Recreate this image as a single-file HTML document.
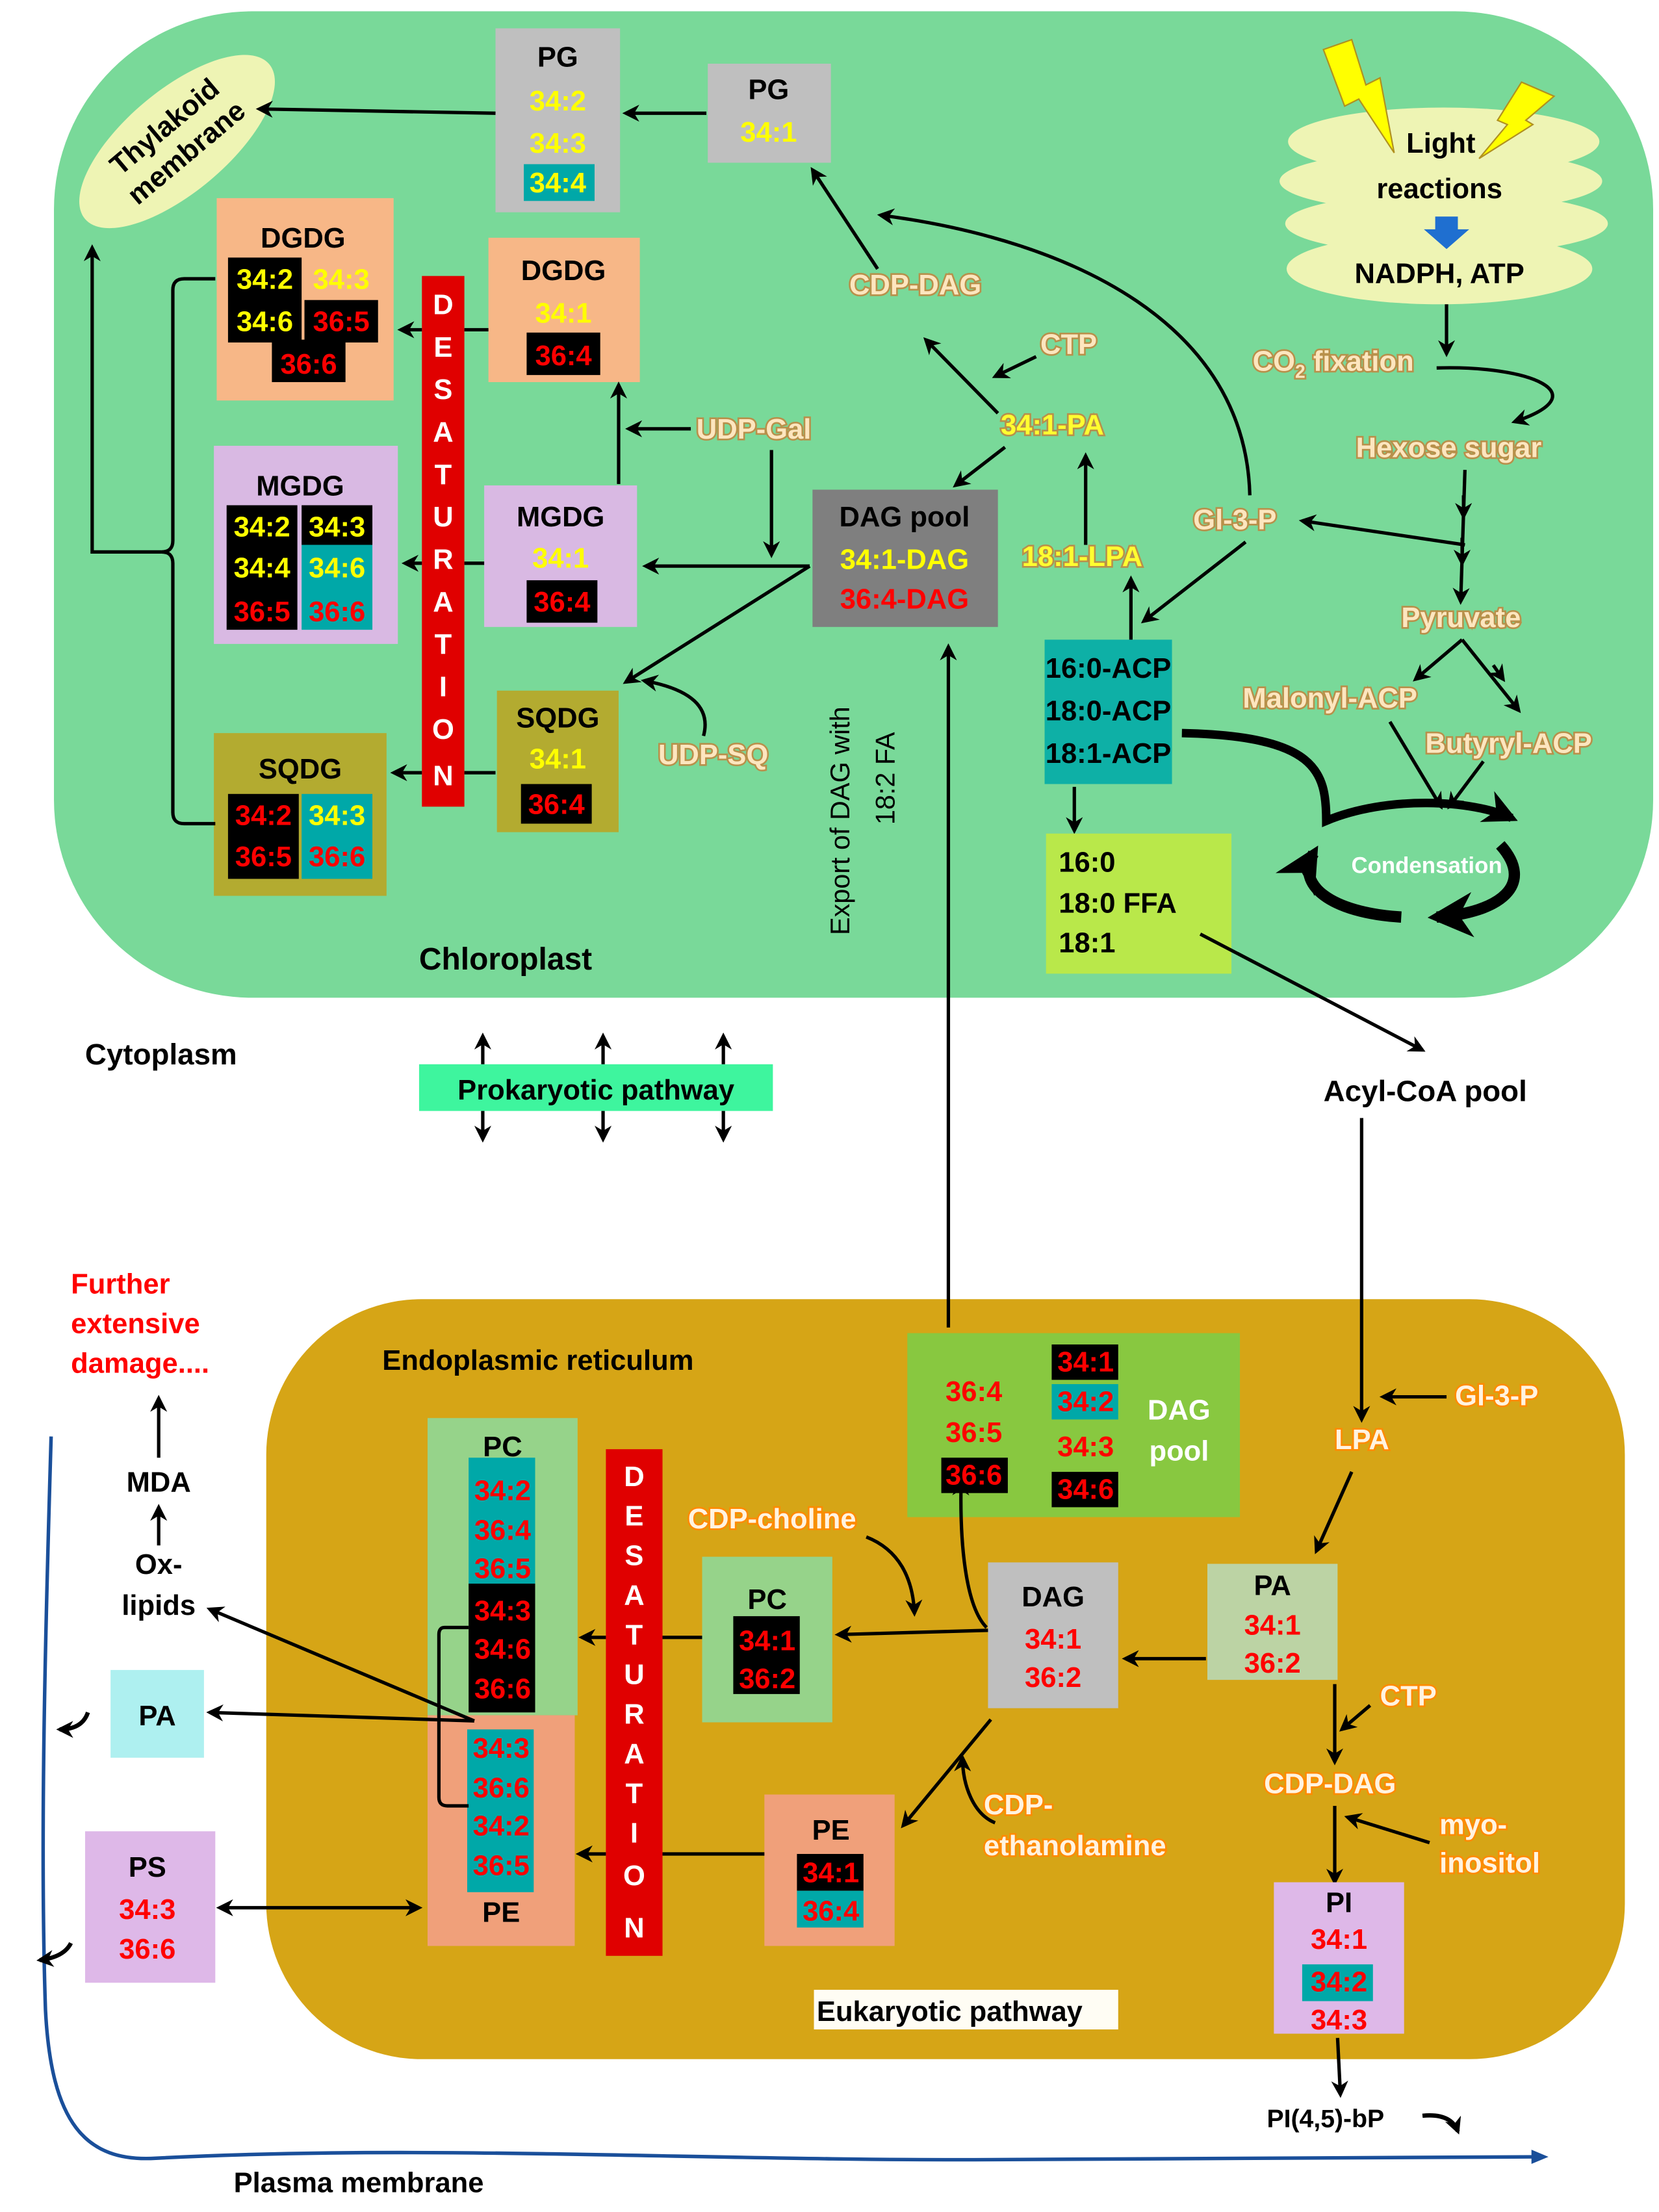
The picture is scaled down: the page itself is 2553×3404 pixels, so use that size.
<!DOCTYPE html>
<html><head><meta charset="utf-8"><style>
html,body{margin:0;padding:0;background:#fff}
svg{display:block}
text{font-family:"Liberation Sans",sans-serif;font-weight:bold}
.t{font-size:20px;text-anchor:middle}
.k{fill:#000}.y{fill:#ffff00}.r{fill:#ff0000}.w{fill:#fff}
.ol{fill:#fde6bf;stroke:#b8904a;stroke-width:2.4px;paint-order:stroke;font-size:20px}
.oe{fill:#fff3e0;stroke:#ff8a00;stroke-width:2.4px;paint-order:stroke;font-size:20px}
.ln{stroke:#000;stroke-width:2.4;fill:none}
</style></head><body>
<svg width="2553" height="3404" viewBox="0 0 1172 1563" xmlns="http://www.w3.org/2000/svg">
<defs>
<marker id="a" viewBox="0 0 10 10" refX="8" refY="5" markerWidth="5" markerHeight="5" orient="auto-start-reverse"><path d="M0,0 L10,5 L0,10 L3,5z" fill="#000"/></marker>
<marker id="b" viewBox="0 0 10 10" refX="8" refY="5" markerWidth="4" markerHeight="4" orient="auto"><path d="M0,0 L10,5 L0,10 L3,5z" fill="#000"/></marker>
</defs>
<rect x="38" y="8" width="1130" height="697" rx="140" fill="#79d999"/>
<rect x="188" y="918" width="960" height="537" rx="110" fill="#d6a516"/>

<g transform="rotate(-40 125 100)">
<ellipse cx="125" cy="100" rx="85" ry="36" fill="#eef4b4"/>
<text class="t k" x="125" y="93" font-size="19">Thylakoid</text>
<text class="t k" x="125" y="117" font-size="19">membrane</text>
</g>

<rect x="350" y="20" width="88" height="130" fill="#bfbfbf"/>
<text class="t k" x="394" y="47">PG</text>
<text class="t y" x="394" y="78">34:2</text>
<text class="t y" x="394" y="108">34:3</text>
<rect x="370" y="116" width="50" height="26" fill="#00a8a8"/>
<text class="t y" x="394" y="136">34:4</text>
<rect x="500" y="45" width="87" height="70" fill="#bfbfbf"/>
<text class="t k" x="543" y="70">PG</text>
<text class="t y" x="543" y="100">34:1</text>
<line class="ln" x1="499" y1="80" x2="442" y2="80" marker-end="url(#a)"/>
<line class="ln" x1="350" y1="80" x2="183" y2="77" marker-end="url(#a)"/>

<rect x="153" y="140" width="125" height="143" fill="#f7b787"/>
<text class="t k" x="214" y="175">DGDG</text>
<rect x="161" y="182" width="52" height="60" fill="#000"/>
<rect x="215" y="212" width="52" height="30" fill="#000"/>
<rect x="192" y="240" width="52" height="30" fill="#000"/>
<text class="t y" x="187" y="204">34:2</text>
<text class="t y" x="241" y="204">34:3</text>
<text class="t y" x="187" y="234">34:6</text>
<text class="t r" x="241" y="234">36:5</text>
<text class="t r" x="218" y="264">36:6</text>
<rect x="345" y="168" width="107" height="102" fill="#f7b787"/>
<text class="t k" x="398" y="198">DGDG</text>
<text class="t y" x="398" y="228">34:1</text>
<rect x="372" y="235" width="52" height="30" fill="#000"/>
<text class="t r" x="398" y="258">36:4</text>

<rect x="298" y="195" width="30" height="375" fill="#e00000"/>
<g class="w" font-size="20" text-anchor="middle">
<text x="313" y="222">D</text><text x="313" y="252">E</text><text x="313" y="282">S</text><text x="313" y="312">A</text><text x="313" y="342">T</text><text x="313" y="372">U</text><text x="313" y="402">R</text><text x="313" y="432">A</text><text x="313" y="462">T</text><text x="313" y="492">I</text><text x="313" y="522">O</text><text x="313" y="555">N</text>
</g>

<rect x="151" y="315" width="130" height="140" fill="#d9b9e3"/>
<text class="t k" x="212" y="350">MGDG</text>
<rect x="160" y="357" width="50" height="88" fill="#000"/>
<rect x="213" y="357" width="50" height="28" fill="#000"/>
<rect x="213" y="385" width="50" height="60" fill="#00a8a8"/>
<text class="t y" x="185" y="379">34:2</text>
<text class="t y" x="238" y="379">34:3</text>
<text class="t y" x="185" y="408">34:4</text>
<text class="t y" x="238" y="408">34:6</text>
<text class="t r" x="185" y="439">36:5</text>
<text class="t r" x="238" y="439">36:6</text>
<rect x="342" y="343" width="108" height="100" fill="#d9b9e3"/>
<text class="t k" x="396" y="372">MGDG</text>
<text class="t y" x="396" y="401">34:1</text>
<rect x="372" y="410" width="50" height="30" fill="#000"/>
<text class="t r" x="397" y="432">36:4</text>

<rect x="151" y="518" width="122" height="115" fill="#b3ab30"/>
<text class="t k" x="212" y="550">SQDG</text>
<rect x="161" y="561" width="50" height="60" fill="#000"/>
<rect x="213" y="561" width="50" height="60" fill="#00a8a8"/>
<text class="t r" x="186" y="583">34:2</text>
<text class="t y" x="238" y="583">34:3</text>
<text class="t r" x="186" y="612">36:5</text>
<text class="t r" x="238" y="612">36:6</text>
<rect x="351" y="488" width="86" height="100" fill="#b3ab30"/>
<text class="t k" x="394" y="514">SQDG</text>
<text class="t y" x="394" y="543">34:1</text>
<rect x="368" y="554" width="50" height="28" fill="#000"/>
<text class="t r" x="393" y="575">36:4</text>

<path class="ln" d="M152,197 L130,197 Q122,197 122,205 L122,382 Q122,390 114,390 Q122,390 122,398 L122,574 Q122,582 130,582 L152,582"/>
<path class="ln" d="M114,390 L65,390 L65,175" marker-end="url(#a)"/>

<line class="ln" x1="345" y1="233" x2="328" y2="233"/>
<line class="ln" x1="298" y1="233" x2="283" y2="233" marker-end="url(#a)"/>
<line class="ln" x1="342" y1="398" x2="328" y2="398"/>
<line class="ln" x1="298" y1="398" x2="286" y2="398" marker-end="url(#a)"/>
<line class="ln" x1="350" y1="546" x2="328" y2="546"/>
<line class="ln" x1="298" y1="546" x2="278" y2="546" marker-end="url(#a)"/>

<rect x="574" y="346" width="131" height="97" fill="#7f7f7f"/>
<text class="t k" x="639" y="372">DAG pool</text>
<text class="t y" x="639" y="402">34:1-DAG</text>
<text class="t r" x="639" y="430">36:4-DAG</text>
<line class="ln" x1="572" y1="400" x2="456" y2="400" marker-end="url(#a)"/>
<line class="ln" x1="572" y1="400" x2="442" y2="482" marker-end="url(#a)"/>
<line class="ln" x1="437" y1="342" x2="437" y2="272" marker-end="url(#a)"/>
<text class="ol" x="492" y="310">UDP-Gal</text>
<line class="ln" x1="488" y1="303" x2="444" y2="303" marker-end="url(#a)"/>
<line class="ln" x1="545" y1="318" x2="545" y2="392" marker-end="url(#a)"/>
<text class="ol" x="465" y="540">UDP-SQ</text>
<path class="ln" d="M497,520 Q505,490 455,481" marker-end="url(#a)"/>

<text class="ol" x="600" y="208">CDP-DAG</text>
<line class="ln" x1="620" y1="190" x2="574" y2="120" marker-end="url(#a)"/>
<text class="ol" x="707" y="307" style="fill:#ffff30">34:1-PA</text>
<line class="ln" x1="705" y1="292" x2="654" y2="240" marker-end="url(#a)"/>
<text class="ol" x="735" y="250">CTP</text>
<line class="ln" x1="732" y1="252" x2="703" y2="266" marker-end="url(#a)"/>
<line class="ln" x1="710" y1="316" x2="675" y2="343" marker-end="url(#a)"/>
<text class="ol" x="722" y="400" style="fill:#ffff30">18:1-LPA</text>
<line class="ln" x1="767" y1="385" x2="767" y2="322" marker-end="url(#a)"/>
<text class="ol" x="843" y="374">Gl-3-P</text>
<path class="ln" d="M883,350 C880,230 760,170 622,152" marker-end="url(#a)"/>
<line class="ln" x1="880" y1="383" x2="808" y2="439" marker-end="url(#a)"/>
<line class="ln" x1="1035" y1="385" x2="920" y2="368" marker-end="url(#a)"/>

<rect x="738" y="452" width="90" height="102" fill="#0eb0a6"/>
<text class="t k" x="783" y="479">16:0-ACP</text>
<text class="t k" x="783" y="509">18:0-ACP</text>
<text class="t k" x="783" y="539">18:1-ACP</text>
<line class="ln" x1="799" y1="452" x2="799" y2="409" marker-end="url(#a)"/>
<line class="ln" x1="759" y1="556" x2="759" y2="587" marker-end="url(#a)"/>
<rect x="739" y="589" width="131" height="99" fill="#b9e84a"/>
<text class="k" x="748" y="616" font-size="20">16:0</text>
<text class="k" x="748" y="645" font-size="20">18:0 FFA</text>
<text class="k" x="748" y="673" font-size="20">18:1</text>

<g fill="#eef4b4">
<ellipse cx="1020" cy="100" rx="110" ry="24"/>
<ellipse cx="1018" cy="128" rx="114" ry="22"/>
<ellipse cx="1022" cy="158" rx="114" ry="22"/>
<ellipse cx="1017" cy="190" rx="108" ry="25"/>
</g>
<path d="M935,35 L955,28 L965,60 L975,55 L985,108 L960,70 L950,75z" fill="#ffff00" stroke="#b09020" stroke-width="1"/>
<path d="M1075,58 L1098,68 L1078,85 L1083,88 L1045,112 L1065,88 L1058,85z" fill="#ffff00" stroke="#b09020" stroke-width="1"/>
<text class="t k" x="1018" y="108">Light</text>
<text class="t k" x="1017" y="140">reactions</text>
<path d="M1014,153 L1030,153 L1030,162 L1038,162 L1022,176 L1006,162 L1014,162z" fill="#1f6fd0"/>
<text class="t k" x="1017" y="200">NADPH, ATP</text>
<line class="ln" x1="1022" y1="215" x2="1022" y2="250" marker-end="url(#a)"/>
<text class="ol" x="885" y="262">CO<tspan font-size="13" dy="5">2</tspan><tspan dy="-5"> fixation</tspan></text>
<path class="ln" d="M1015,260 C1080,258 1130,278 1070,298" marker-end="url(#a)"/>
<text class="ol" x="958" y="323">Hexose sugar</text>
<path class="ln" d="M1035,332 L1032,425" marker-end="url(#a)"/>
<path class="ln" d="M1034,350 L1034,365" marker-end="url(#a)"/>
<path class="ln" d="M1033,380 L1033,398" marker-end="url(#a)"/>
<text class="ol" x="990" y="443">Pyruvate</text>
<line class="ln" x1="1033" y1="452" x2="1000" y2="480" marker-end="url(#a)"/>
<line class="ln" x1="1033" y1="452" x2="1073" y2="502" marker-end="url(#a)"/>
<line class="ln" x1="1055" y1="470" x2="1062" y2="480" marker-end="url(#a)"/>
<text class="ol" x="878" y="500">Malonyl-ACP</text>
<text class="ol" x="1007" y="532">Butyryl-ACP</text>
<line class="ln" x1="982" y1="510" x2="1018" y2="570" marker-end="url(#a)"/>
<line class="ln" x1="1048" y1="538" x2="1024" y2="570" marker-end="url(#a)"/>

<path d="M835,518 C930,520 937,545 937,580 C980,562 1040,565 1068,578" fill="none" stroke="#000" stroke-width="6" marker-end="url(#b)"/>
<path d="M1060,597 C1085,625 1060,645 1015,648" fill="none" stroke="#000" stroke-width="8" marker-end="url(#b)"/>
<path d="M990,648 C940,645 915,625 928,603" fill="none" stroke="#000" stroke-width="8" marker-end="url(#b)"/>
<text x="1008" y="617" class="w" font-size="16" text-anchor="middle">Condensation</text>

<text class="k" x="296" y="685" font-size="22">Chloroplast</text>
<g transform="rotate(-90 600 580)"><text class="k" x="600" y="580" font-size="19" style="font-weight:normal" text-anchor="middle">Export of DAG with</text></g>
<g transform="rotate(-90 632 550)"><text class="k" x="632" y="550" font-size="19" style="font-weight:normal" text-anchor="middle">18:2 FA</text></g>
<line class="ln" x1="670" y1="938" x2="670" y2="457" marker-end="url(#a)"/>
<line class="ln" x1="848" y1="660" x2="1005" y2="742" marker-end="url(#a)"/>

<text class="k" x="60" y="752" font-size="21">Cytoplasm</text>
<rect x="296" y="752" width="250" height="33" fill="#3ef59e"/>
<text class="t k" x="421" y="777" font-size="22">Prokaryotic pathway</text>
<g>
<line class="ln" x1="341" y1="752" x2="341" y2="732" marker-end="url(#a)"/><line class="ln" x1="341" y1="785" x2="341" y2="805" marker-end="url(#a)"/>
<line class="ln" x1="426" y1="752" x2="426" y2="732" marker-end="url(#a)"/><line class="ln" x1="426" y1="785" x2="426" y2="805" marker-end="url(#a)"/>
<line class="ln" x1="511" y1="752" x2="511" y2="732" marker-end="url(#a)"/><line class="ln" x1="511" y1="785" x2="511" y2="805" marker-end="url(#a)"/>
</g>
<text class="k" x="935" y="778" font-size="21">Acyl-CoA pool</text>
<line class="ln" x1="962" y1="790" x2="962" y2="1003" marker-end="url(#a)"/>

<text class="k" x="270" y="968" font-size="20">Endoplasmic reticulum</text>
<rect x="641" y="942" width="235" height="130" fill="#88c840"/>
<text class="t r" x="688" y="990">36:4</text>
<text class="t r" x="688" y="1019">36:5</text>
<rect x="665" y="1030" width="47" height="25" fill="#000"/>
<text class="t r" x="688" y="1049">36:6</text>
<rect x="743" y="950" width="47" height="25" fill="#000"/>
<text class="t r" x="767" y="969">34:1</text>
<rect x="743" y="978" width="47" height="25" fill="#00a8a8"/>
<text class="t r" x="767" y="997">34:2</text>
<text class="t r" x="767" y="1029">34:3</text>
<rect x="743" y="1040" width="47" height="25" fill="#000"/>
<text class="t r" x="767" y="1059">34:6</text>
<text class="t w" x="833" y="1003">DAG</text>
<text class="t w" x="833" y="1032">pool</text>

<text class="oe" x="943" y="1024">LPA</text>
<text class="oe" x="1028" y="993">Gl-3-P</text>
<line class="ln" x1="1022" y1="987" x2="977" y2="987" marker-end="url(#a)"/>
<line class="ln" x1="955" y1="1040" x2="930" y2="1096" marker-end="url(#a)"/>
<rect x="853" y="1105" width="92" height="82" fill="#bcd3a4"/>
<text class="t k" x="899" y="1127">PA</text>
<text class="t r" x="899" y="1155">34:1</text>
<text class="t r" x="899" y="1182">36:2</text>
<rect x="698" y="1104" width="92" height="103" fill="#bfbfbf"/>
<text class="t k" x="744" y="1135">DAG</text>
<text class="t r" x="744" y="1165">34:1</text>
<text class="t r" x="744" y="1192">36:2</text>
<line class="ln" x1="852" y1="1172" x2="795" y2="1172" marker-end="url(#a)"/>
<line class="ln" x1="698" y1="1152" x2="592" y2="1155" marker-end="url(#a)"/>
<path class="ln" d="M697,1150 C682,1135 678,1090 679,1047" marker-end="url(#a)"/>
<text class="oe" x="486" y="1080">CDP-choline</text>
<path class="ln" d="M612,1086 C635,1095 645,1115 646,1140" marker-end="url(#a)"/>
<rect x="496" y="1100" width="92" height="117" fill="#96d38a"/>
<text class="t k" x="542" y="1137">PC</text>
<rect x="518" y="1142" width="47" height="55" fill="#000"/>
<text class="t r" x="542" y="1166">34:1</text>
<text class="t r" x="542" y="1193">36:2</text>
<rect x="540" y="1268" width="92" height="107" fill="#f0a07a"/>
<text class="t k" x="587" y="1300">PE</text>
<rect x="563" y="1310" width="47" height="26" fill="#000"/>
<rect x="563" y="1336" width="47" height="26" fill="#00a8a8"/>
<text class="t r" x="587" y="1330">34:1</text>
<text class="t r" x="587" y="1357">36:4</text>
<line class="ln" x1="700" y1="1215" x2="638" y2="1290" marker-end="url(#a)"/>
<path class="ln" d="M703,1288 C688,1282 680,1262 680,1242" marker-end="url(#a)"/>
<text class="oe" x="695" y="1282">CDP-</text>
<text class="oe" x="695" y="1311">ethanolamine</text>

<text class="oe" x="975" y="1205">CTP</text>
<line class="ln" x1="968" y1="1205" x2="948" y2="1222" marker-end="url(#a)"/>
<line class="ln" x1="943" y1="1190" x2="943" y2="1245" marker-end="url(#a)"/>
<text class="oe" x="893" y="1267">CDP-DAG</text>
<line class="ln" x1="943" y1="1276" x2="943" y2="1330" marker-end="url(#a)"/>
<text class="oe" x="1017" y="1296">myo-</text>
<text class="oe" x="1017" y="1323">inositol</text>
<line class="ln" x1="1010" y1="1302" x2="952" y2="1284" marker-end="url(#a)"/>
<rect x="900" y="1330" width="92" height="107" fill="#deb8e8"/>
<text class="t k" x="946" y="1351">PI</text>
<text class="t r" x="946" y="1377">34:1</text>
<rect x="920" y="1388" width="50" height="26" fill="#00a8a8"/>
<text class="t r" x="946" y="1407">34:2</text>
<text class="t r" x="946" y="1434">34:3</text>
<line class="ln" x1="945" y1="1440" x2="947" y2="1480" marker-end="url(#a)"/>
<text class="k" x="895" y="1503" font-size="18">PI(4,5)-bP</text>
<path d="M1005,1495 Q1025,1493 1030,1506" fill="none" stroke="#000" stroke-width="3" marker-end="url(#b)"/>
<rect x="575" y="1406" width="215" height="28" fill="#fffdf4"/>
<text class="k" x="577" y="1428" font-size="20">Eukaryotic pathway</text>

<rect x="428" y="1024" width="40" height="358" fill="#e00000"/>
<g class="w" font-size="20" text-anchor="middle">
<text x="448" y="1050">D</text><text x="448" y="1078">E</text><text x="448" y="1106">S</text><text x="448" y="1134">A</text><text x="448" y="1162">T</text><text x="448" y="1190">U</text><text x="448" y="1218">R</text><text x="448" y="1246">A</text><text x="448" y="1274">T</text><text x="448" y="1302">I</text><text x="448" y="1332">O</text><text x="448" y="1369">N</text>
</g>
<line class="ln" x1="496" y1="1157" x2="468" y2="1157"/>
<line class="ln" x1="428" y1="1157" x2="411" y2="1157" marker-end="url(#a)"/>
<line class="ln" x1="540" y1="1310" x2="468" y2="1310"/>
<line class="ln" x1="428" y1="1310" x2="409" y2="1310" marker-end="url(#a)"/>

<rect x="302" y="1002" width="106" height="210" fill="#96d38a"/>
<rect x="302" y="1212" width="104" height="163" fill="#f0a07a"/>
<text class="t k" x="355" y="1029">PC</text>
<rect x="331" y="1030" width="47" height="89" fill="#00a8a8"/>
<rect x="331" y="1119" width="47" height="91" fill="#000"/>
<rect x="330" y="1222" width="47" height="115" fill="#00a8a8"/>
<text class="t r" x="355" y="1060">34:2</text>
<text class="t r" x="355" y="1088">36:4</text>
<text class="t r" x="355" y="1115">36:5</text>
<text class="t r" x="355" y="1145">34:3</text>
<text class="t r" x="355" y="1172">34:6</text>
<text class="t r" x="355" y="1200">36:6</text>
<text class="t r" x="354" y="1242">34:3</text>
<text class="t r" x="354" y="1270">36:6</text>
<text class="t r" x="354" y="1297">34:2</text>
<text class="t r" x="354" y="1325">36:5</text>
<text class="t k" x="354" y="1358">PE</text>
<path class="ln" d="M331,1150 L314,1150 Q310,1150 310,1155 L310,1270 Q310,1276 316,1276 L331,1276"/>
<line class="ln" x1="335" y1="1216" x2="148" y2="1137" marker-end="url(#a)"/>
<line class="ln" x1="335" y1="1216" x2="148" y2="1210" marker-end="url(#a)"/>

<rect x="78" y="1180" width="66" height="62" fill="#aef0f0"/>
<text class="t k" x="111" y="1219">PA</text>
<rect x="60" y="1294" width="92" height="107" fill="#deb8e8"/>
<text class="t k" x="104" y="1326">PS</text>
<text class="t r" x="104" y="1356">34:3</text>
<text class="t r" x="104" y="1384">36:6</text>
<line class="ln" x1="155" y1="1348" x2="296" y2="1348" marker-start="url(#a)" marker-end="url(#a)"/>

<text class="t k" x="112" y="1112">Ox-</text>
<text class="t k" x="112" y="1141">lipids</text>
<line class="ln" x1="112" y1="1092" x2="112" y2="1065" marker-end="url(#a)"/>
<text class="t k" x="112" y="1054">MDA</text>
<line class="ln" x1="112" y1="1030" x2="112" y2="988" marker-end="url(#a)"/>
<text class="r" x="50" y="914" font-size="20">Further</text>
<text class="r" x="50" y="942" font-size="20">extensive</text>
<text class="r" x="50" y="970" font-size="20">damage....</text>

<path d="M36,1015 C32,1150 28,1300 32,1420 C36,1500 60,1528 110,1525 C300,1515 500,1527 700,1526 L1088,1524" fill="none" stroke="#1a4f9a" stroke-width="2.5"/>
<path d="M1082,1519 L1094,1524 L1082,1529z" fill="#1a4f9a"/>
<text class="k" x="165" y="1549" font-size="20">Plasma membrane</text>
<path d="M62,1210 Q58,1222 42,1222" fill="none" stroke="#000" stroke-width="3" marker-end="url(#b)"/>
<path d="M50,1373 Q45,1383 28,1385" fill="none" stroke="#000" stroke-width="3" marker-end="url(#b)"/>
</svg>
</body></html>
